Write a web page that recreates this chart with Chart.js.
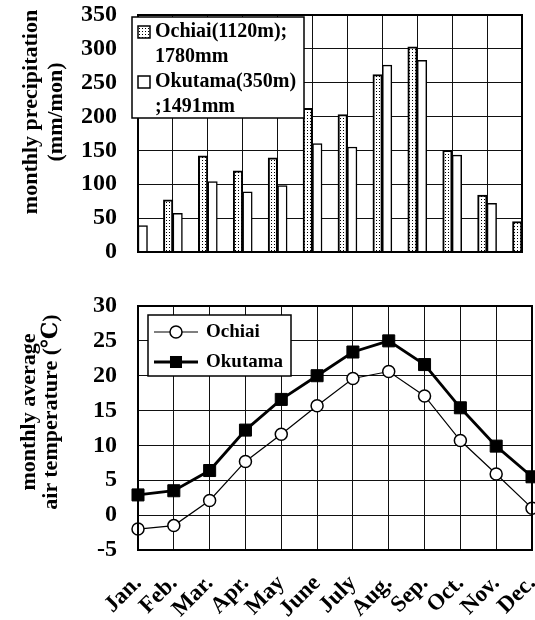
<!DOCTYPE html>
<html>
<head>
<meta charset="utf-8">
<script src="https://cdn.jsdelivr.net/npm/chart.js@4.4.0/dist/chart.umd.min.js"></script>
<style>
body { margin: 0; background: #fff; }
#wrap { position: relative; width: 535px; height: 620px; overflow: hidden; background: #fff; }
canvas { position: absolute; left: 0; }
#rainChart { top: 0; }
#tempChart { top: 280px; }
.ytitle {
    position: absolute;
    width: 260px;
    font: bold 22px 'Liberation Serif', 'DejaVu Serif', serif;
    text-align: center;
    white-space: nowrap;
    color: #000;
    transform: rotate(-90deg);
}
#rainTitle { left: -88px; top: 87px; line-height: 25px; }
#tempTitle { left: -91px; top: 390px; line-height: 22px; }
</style>
</head>
<body>
<div id="wrap">
    <canvas id="rainChart" width="535" height="262"></canvas>
    <canvas id="tempChart" width="535" height="340"></canvas>
    <div class="ytitle" id="rainTitle">monthly precipitation<br>(mm/mon)</div>
    <div class="ytitle" id="tempTitle">monthly average<br>air temperature (℃)</div>
</div>

<script>
// data
const months = ['Jan.', 'Feb.', 'Mar.', 'Apr.', 'May', 'June', 'July', 'Aug.', 'Sep.', 'Oct.', 'Nov.', 'Dec.'];

const rainNames = [['Ochiai(1120m);', '1780mm'], ['Okutama(350m)', ';1491mm']];
const ochiaiRain = [43, 77, 142, 120, 139, 212, 203, 262, 303, 150, 84, 45];
const okutamaRain = [39, 57, 104, 89, 98, 160, 155, 276, 283, 143, 72, 16];
const rainRange = [0, 350, 50];

const tempNames = ['Ochiai', 'Okutama'];
const ochiaiTemp = [-2.0, -1.5, 2.1, 7.7, 11.6, 15.7, 19.6, 20.6, 17.1, 10.7, 5.9, 1.0];
const okutamaTemp = [2.9, 3.5, 6.4, 12.2, 16.6, 20.0, 23.4, 25.0, 21.6, 15.4, 9.9, 5.5];
const tempRange = [-5, 30, 5];

var serif = "'Liberation Serif', 'Times New Roman', serif";
Chart.defaults.font.family = serif;
Chart.defaults.font.weight = 'bold';
Chart.defaults.color = '#000';

/////////////// dotted fill for Ochiai bars

function dotPattern() {
    var c = document.createElement('canvas');
    c.width = 3;
    c.height = 3;
    var g = c.getContext('2d');
    g.fillStyle = '#fff';
    g.fillRect(0, 0, 3, 3);
    g.fillStyle = '#000';
    g.fillRect(1, 1, 1, 1);
    return g.createPattern(c, 'repeat');
}
var dots = dotPattern();

// thick frame round the plot
const framePlugin = {
    id: 'frame',
    afterDatasetsDraw: function(chart) {
        var a = chart.chartArea;
        var ctx = chart.ctx;
        ctx.save();
        ctx.strokeStyle = '#000';
        ctx.lineWidth = 2;
        ctx.strokeRect(a.left, a.top, a.right - a.left, a.bottom - a.top);
        ctx.restore();
    }
};

function gridOpts() {
    return { color: '#111', lineWidth: 1, drawTicks: false, offset: false };
}

// fixed axis sizes, no extra label padding around the plot
function fixWidth(w) {
    return function(scale) {
        scale.width = w;
        scale.paddingTop = 0;
        scale.paddingBottom = 0;
    };
}
function fixHeight(h) {
    return function(scale) {
        scale.height = h;
        scale.paddingLeft = 0;
        scale.paddingRight = 0;
    };
}

/////////////// precipitation chart

const rainLegend = {
    id: 'rainLegend',
    afterDraw: function(chart) {
        var ctx = chart.ctx;
        ctx.save();
        ctx.fillStyle = '#fff';
        ctx.fillRect(132, 17, 172, 101);
        ctx.strokeStyle = '#000';
        ctx.lineWidth = 1.5;
        ctx.strokeRect(132, 17, 172, 101);
        ctx.font = 'bold 20px ' + serif;
        ctx.textBaseline = 'middle';
        chart.data.datasets.forEach(function(ds, i) {
            var y = 32 + i * 50;
            ctx.fillStyle = ds.backgroundColor;
            ctx.fillRect(138, y - 6, 12, 12);
            ctx.lineWidth = 1.5;
            ctx.strokeRect(138, y - 6, 12, 12);
            ctx.fillStyle = '#000';
            ds.label.forEach(function(line, k) {
                ctx.fillText(line, 155, y + k * 25);
            });
        });
        ctx.restore();
    }
};

new Chart(document.getElementById('rainChart'), {
    type: 'bar',
    data: {
        labels: months,
        datasets: [{
            label: rainNames[0],
            data: ochiaiRain,
            backgroundColor: dots,
            borderColor: '#000',
            borderWidth: 2,
            clip: 0
        }, {
            label: rainNames[1],
            data: okutamaRain,
            backgroundColor: '#fff',
            borderColor: '#000',
            borderWidth: 1.5,
            clip: 0
        }]
    },
    options: {
        responsive: false,
        animation: false,
        events: [],
        barThickness: 9.5,
        layout: { autoPadding: false, padding: { left: 0, right: 13, top: 15, bottom: 0 } },
        plugins: { legend: { display: false }, tooltip: { enabled: false } },
        scales: {
            x: {
                offset: false,
                grid: gridOpts(),
                border: { color: '#000', width: 2 },
                ticks: { display: false },
                afterFit: fixHeight(10)
            },
            y: {
                min: rainRange[0],
                max: rainRange[1],
                grid: gridOpts(),
                border: { color: '#000', width: 2 },
                ticks: { stepSize: rainRange[2], padding: 21, font: { size: 24, weight: 'bold' } },
                afterFit: fixWidth(138)
            }
        }
    },
    plugins: [framePlugin, rainLegend]
});

/////////////// temperature chart

const tempLegend = {
    id: 'tempLegend',
    afterDraw: function(chart) {
        var ctx = chart.ctx;
        ctx.save();
        ctx.fillStyle = '#fff';
        ctx.fillRect(148, 35, 143, 61);
        ctx.strokeStyle = '#000';
        ctx.lineWidth = 1.5;
        ctx.strokeRect(148, 35, 143, 61);
        ctx.font = 'bold 19px ' + serif;
        ctx.textBaseline = 'middle';
        chart.data.datasets.forEach(function(ds, i) {
            var y = 52 + i * 30;
            ctx.strokeStyle = '#000';
            ctx.lineWidth = ds.borderWidth;
            ctx.beginPath();
            ctx.moveTo(154, y);
            ctx.lineTo(198, y);
            ctx.stroke();
            ctx.lineWidth = ds.pointBorderWidth;
            ctx.fillStyle = ds.pointBackgroundColor;
            if (ds.pointStyle === 'circle') {
                ctx.beginPath();
                ctx.arc(176, y, ds.pointRadius, 0, Math.PI * 2);
                ctx.fill();
                ctx.stroke();
            } else {
                var s = ds.pointRadius * Math.SQRT1_2;
                ctx.fillRect(176 - s, y - s, 2 * s, 2 * s);
            }
            ctx.fillStyle = '#000';
            ctx.fillText(ds.label, 206, y);
        });
        ctx.restore();
    }
};

new Chart(document.getElementById('tempChart'), {
    type: 'line',
    data: {
        labels: months,
        datasets: [{
            label: tempNames[0],
            data: ochiaiTemp,
            borderColor: '#000',
            borderWidth: 1.2,
            pointStyle: 'circle',
            pointRadius: 6,
            pointBackgroundColor: '#fff',
            pointBorderColor: '#000',
            pointBorderWidth: 1.5,
            tension: 0,
            clip: false
        }, {
            label: tempNames[1],
            data: okutamaTemp,
            borderColor: '#000',
            borderWidth: 2.8,
            pointStyle: 'rect',
            pointRadius: 8.5,
            pointBackgroundColor: '#000',
            pointBorderColor: '#000',
            pointBorderWidth: 1,
            tension: 0,
            clip: false
        }]
    },
    options: {
        responsive: false,
        animation: false,
        events: [],
        layout: { autoPadding: false, padding: { left: 0, right: 3, top: 26, bottom: 0 } },
        plugins: { legend: { display: false }, tooltip: { enabled: false } },
        scales: {
            x: {
                offset: false,
                grid: gridOpts(),
                border: { color: '#000', width: 2 },
                ticks: {
                    autoSkip: false,
                    minRotation: 45,
                    maxRotation: 45,
                    padding: 20,
                    font: { size: 23, weight: 'bold' }
                },
                afterFit: fixHeight(70)
            },
            y: {
                min: tempRange[0],
                max: tempRange[1],
                grid: gridOpts(),
                border: { color: '#000', width: 2 },
                ticks: { stepSize: tempRange[2], padding: 21, font: { size: 24, weight: 'bold' } },
                afterFit: fixWidth(138)
            }
        }
    },
    plugins: [framePlugin, tempLegend]
});
</script>
</body>
</html>
